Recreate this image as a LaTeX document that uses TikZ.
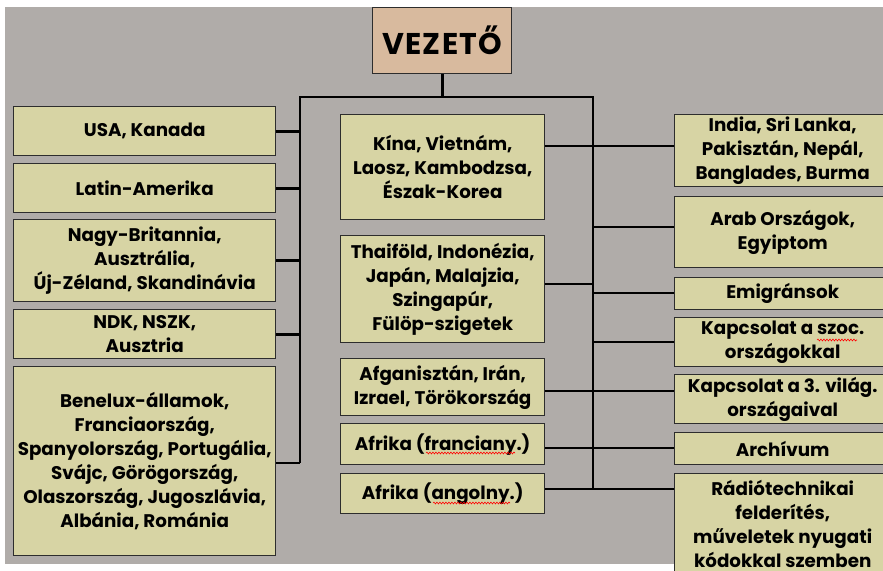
\documentclass[tikz,border=0pt]{standalone}
\usepackage{fontspec}
\setmainfont{Poppins}
\usetikzlibrary{decorations.pathmorphing}
\definecolor{bg}{RGB}{176,172,169}
\definecolor{boxfill}{RGB}{215,212,164}
\definecolor{headfill}{RGB}{216,186,158}
\definecolor{edge}{RGB}{45,45,45}
\begin{document}
\begin{tikzpicture}[x=1pt,y=-1pt,
  box/.style={draw=edge, line width=1.4pt, fill=boxfill, align=center,
    font=\bfseries\fontsize{18.3}{24}\selectfont, inner sep=0pt, anchor=north west},
  conn/.style={line width=2.6pt, black},
  spell/.style={red, line width=0.6pt, decorate, decoration={snake, amplitude=0.9pt, segment length=3pt}}]
\useasboundingbox (0,0) rectangle (883,570);
\clip (0,0) rectangle (883,570);
\fill[white] (0,0) rectangle (883,570);
\fill[bg] (5,7) rectangle (883,564);

% trunk coordinates
\coordinate (tl) at (300,97);
\coordinate (tr) at (593,97);
\coordinate (lb) at (300,463);
\coordinate (rb) at (593,489);

% head
\node[box, fill=headfill, minimum width=139pt, minimum height=66pt,
  font=\bfseries\fontsize{30}{30}\selectfont] (vez) at (372,7) {\addfontfeature{LetterSpace=4}VEZETŐ};

% left column
\node[box, minimum width=262pt, minimum height=49pt] (usa) at (13,106) {USA, Kanada};
\node[box, minimum width=262pt, minimum height=49pt] (lat) at (13,163) {Latin-Amerika};
\node[box, minimum width=262pt, minimum height=82pt] (nb) at (13,219) {Nagy-Britannia,\\Ausztrália,\\Új-Zéland, Skandinávia};
\node[box, minimum width=262pt, minimum height=49pt] (ndk) at (13,309) {NDK, NSZK,\\Ausztria};
\node[box, minimum width=262pt, minimum height=189pt] (ben) at (13,366) {Benelux-államok,\\Franciaország,\\Spanyolország, Portugália,\\Svájc, Görögország,\\Olaszország, Jugoszlávia,\\Albánia, Románia};

% middle column
\node[box, minimum width=204pt, minimum height=105pt] (kina) at (340,114) {Kína, Vietnám,\\Laosz, Kambodzsa,\\Észak-Korea};
\node[box, minimum width=204pt, minimum height=107pt] (thai) at (340,235) {Thaiföld, Indonézia,\\Japán, Malajzia,\\Szingapúr,\\Fülöp-szigetek};
\node[box, minimum width=204pt, minimum height=57pt] (afg) at (340,358) {Afganisztán, Irán,\\Izrael, Törökország};
\node[box, minimum width=204pt, minimum height=41pt] (aff) at (340,423) {Afrika (franciany.)};
\node[box, minimum width=204pt, minimum height=40pt] (afa) at (340,473) {Afrika (angolny.)};

% right column
\node[box, minimum width=216pt, minimum height=72pt] (ind) at (674,114) {India, Sri Lanka,\\Pakisztán, Nepál,\\Banglades, Burma};
\node[box, minimum width=216pt, minimum height=71pt] (arab) at (674,196) {Arab Országok,\\Egyiptom};
\node[box, minimum width=216pt, minimum height=32pt] (emi) at (674,277) {Emigránsok};
\node[box, minimum width=216pt, minimum height=49pt] (szoc) at (674,317) {Kapcsolat a szoc.\\országokkal};
\node[box, minimum width=216pt, minimum height=49pt] (harm) at (674,374) {Kapcsolat a 3. világ.\\országaival};
\node[box, minimum width=216pt, minimum height=32pt] (arch) at (674,432) {Archívum};
\node[box, minimum width=216pt, minimum height=100pt] (radio) at (674,473) {Rádiótechnikai\\felderítés,\\műveletek nyugati\\kódokkal szemben};

% junctions
\coordinate (j1) at (593,146);
\coordinate (j2) at (593,227);
\coordinate (j3) at (593,284);
\coordinate (j4) at (593,293);
\coordinate (j5) at (593,342);
\coordinate (j6) at (593,391);
\coordinate (j7) at (593,448);
\coordinate (j8) at (593,489);

% connectors
\draw[conn] (vez.south) -- (vez.south |- tl);
\draw[conn] (lb) -- (tl) -- (tr) -- (rb);
\draw[conn] (usa.east) -- (usa.east -| tl);
\draw[conn] (lat.east) -- (lat.east -| tl);
\draw[conn] (nb.east) -- (nb.east -| tl);
\draw[conn] (ndk.east) -- (ndk.east -| tl);
\draw[conn] (ben.east |- lb) -- (lb);
\draw[conn] (kina.east |- j1) -- (ind.west |- j1);
\draw[conn] (j2) -- (arab.west |- j2);
\draw[conn] (thai.east |- j3) -- (j3);
\draw[conn] (j4) -- (emi.west |- j4);
\draw[conn] (j5) -- (szoc.west |- j5);
\draw[conn] (afg.east |- j6) -- (harm.west |- j6);
\draw[conn] (aff.east |- j7) -- (arch.west |- j7);
\draw[conn] (afa.east |- j8) -- (radio.west |- j8);

% spell-check underlines
\draw[spell] (426,453) -- (515,453);
\draw[spell] (433,503) -- (510,503);
\draw[spell] (817,340) -- (857,340);
\end{tikzpicture}
\end{document}
